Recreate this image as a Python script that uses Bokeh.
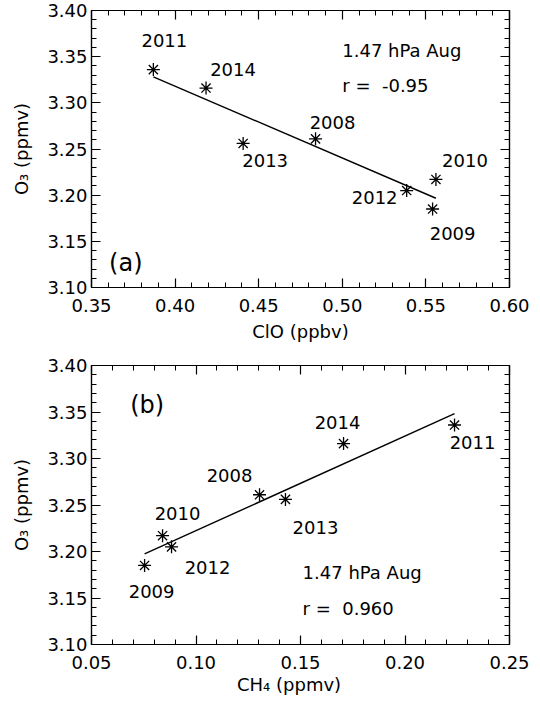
import numpy as np
from bokeh.plotting import figure
from bokeh.models import Range1d, FixedTicker, LinearAxis, Label, ColumnDataSource, PrintfTickFormatter
from bokeh.layouts import column
from bokeh.embed import file_html
from bokeh.resources import INLINE
from bokeh.core.properties import value

# ---------------- data ----------------
years = ["2008", "2009", "2010", "2011", "2012", "2013", "2014"]
o3 = [3.261, 3.185, 3.217, 3.336, 3.205, 3.256, 3.316]        # ppmv
clo = [0.484, 0.554, 0.556, 0.387, 0.5385, 0.4407, 0.4185]     # ppbv
ch4 = [0.1304, 0.0754, 0.0840, 0.2237, 0.0883, 0.1428, 0.1706] # ppmv
r_clo = "-0.95"
r_ch4 = "0.960"
level_label = "1.47 hPa Aug"
o3_ticks = [3.10, 3.15, 3.20, 3.25, 3.30, 3.35, 3.40]
clo_ticks = [0.35, 0.40, 0.45, 0.50, 0.55, 0.60]
ch4_ticks = [0.05, 0.10, 0.15, 0.20, 0.25]

# label offsets (pixels) for year annotations
a_dx = [17, 20, 29, 11, -32, 22, 27]
a_dy = [-16, 24, -19, -29, 7, 17, -19]
b_dx = [-30, 7, 15, 18, 36, 30, -6]
b_dy = [-19, 26, -22, 17, 21, 28, -21]

FONT = "DejaVu Sans"
FS = "18px"
NB = "\u00a0"


def minor_list(ticks, step):
    lo, hi = ticks[0], ticks[-1]
    n = int(round((hi - lo) / step))
    return [round(lo + i * step, 4) for i in range(n + 1)]


def style_axis(ax, xt, show_labels=True):
    ax.ticker = xt
    ax.formatter = PrintfTickFormatter(format="%.2f")
    ax.major_tick_in = 9
    ax.major_tick_out = 0
    ax.minor_tick_in = 5
    ax.minor_tick_out = 0
    ax.axis_line_color = "black"
    ax.axis_line_width = 1.2
    ax.major_tick_line_color = "black"
    ax.minor_tick_line_color = "black"
    ax.major_tick_line_width = 1.2
    ax.minor_tick_line_width = 1.0
    ax.major_label_text_font = FONT
    ax.axis_label_text_font = FONT
    ax.axis_label_text_font_size = FS
    ax.axis_label_text_font_style = "normal"
    ax.axis_label_text_color = "black"
    if show_labels:
        ax.major_label_text_font_size = FS
        ax.major_label_text_color = "black"
    else:
        ax.major_label_text_font_size = "0px"
        ax.major_label_text_color = None
        ax.major_label_standoff = 0


def panel(xvals, xticks, xlabel, dx, dy, r_txt, tag, height, borders, ann, xlab_standoff):
    bl, br, bt, bb = borders
    p = figure(width=540, height=height, output_backend="svg", toolbar_location=None,
               x_range=Range1d(xticks[0], xticks[-1]), y_range=Range1d(o3_ticks[0], o3_ticks[-1]),
               min_border_left=bl, min_border_right=br, min_border_top=bt, min_border_bottom=bb)
    p.xgrid.visible = False
    p.ygrid.visible = False
    p.outline_line_color = "black"
    p.outline_line_width = 1.2
    p.background_fill_color = "white"
    p.border_fill_color = "white"

    xt = FixedTicker(ticks=xticks, minor_ticks=minor_list(xticks, 0.01))
    yt = FixedTicker(ticks=o3_ticks, minor_ticks=minor_list(o3_ticks, 0.01))

    style_axis(p.xaxis[0], xt)
    style_axis(p.yaxis[0], yt)
    p.xaxis[0].axis_label = xlabel
    p.yaxis[0].axis_label = "O\u2083 (ppmv)"
    p.xaxis[0].major_label_standoff = 11
    p.xaxis[0].axis_label_standoff = xlab_standoff
    p.yaxis[0].major_label_standoff = 4
    p.yaxis[0].axis_label_standoff = 12

    top = LinearAxis()
    right = LinearAxis()
    style_axis(top, xt, show_labels=False)
    style_axis(right, yt, show_labels=False)
    p.add_layout(top, "above")
    p.add_layout(right, "right")

    src = ColumnDataSource(dict(x=xvals, y=o3, year=years, dx=dx, dy=dy))

    # least-squares fit line computed from the data
    k, c = np.polyfit(xvals, o3, 1)
    fx = [min(xvals), max(xvals)]
    fy = [k * v + c for v in fx]
    p.line(fx, fy, line_color="black", line_width=1.4)

    p.scatter("x", "y", source=src, marker="asterisk", size=13, line_color="black", line_width=1.3)
    p.text("x", "y", text="year", source=src, x_offset="dx", y_offset="dy",
           text_align="center", text_baseline="middle",
           text_font=value(FONT), text_font_size=FS, text_color="black")

    (lx, ly1, ly2, tx, ty) = ann
    p.add_layout(Label(x=lx, y=ly1, text=level_label, text_font=FONT, text_font_size=FS,
                       text_baseline="middle", text_align="left", text_color="black"))
    p.add_layout(Label(x=lx, y=ly2, text="r =" + NB + " " + r_txt, text_font=FONT, text_font_size=FS,
                       text_baseline="middle", text_align="left", text_color="black"))
    p.add_layout(Label(x=tx, y=ty, text=tag, text_font=FONT, text_font_size="24px",
                       text_baseline="middle", text_align="left", text_color="black"))
    return p


pa = panel(clo, clo_ticks, "ClO (ppbv)", a_dx, a_dy, r_clo, "(a)", 350, (91, 22, 10, 63),
           (0.50, 3.357, 3.319, 0.3605, 3.127), 6)
pb = panel(ch4, ch4_ticks, "CH\u2084 (ppmv)" + NB * 4, b_dx, b_dy, r_ch4, "(b)", 352, (91, 31, 15, 58),
           (0.151, 3.177, 3.139, 0.0685, 3.357), 2)

layout = column(pa, pb, spacing=0)
open("out.html", "w").write(file_html(layout, INLINE))
